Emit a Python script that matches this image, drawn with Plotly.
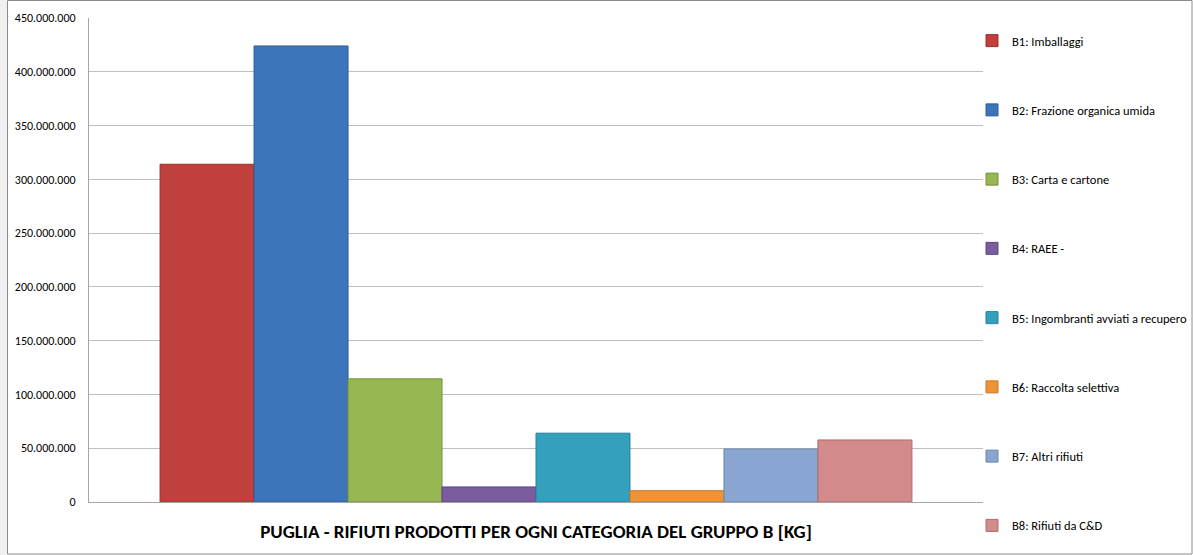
import plotly.graph_objects as go

categories = ["PUGLIA - RIFIUTI PRODOTTI PER OGNI CATEGORIA DEL GRUPPO B [KG]"]
series_names = [
    "B1: Imballaggi",
    "B2: Frazione organica umida",
    "B3: Carta e cartone",
    "B4: RAEE -",
    "B5: Ingombranti avviati a recupero",
    "B6: Raccolta selettiva",
    "B7: Altri rifiuti",
    "B8: Rifiuti da C&D",
]
series_values = [314000000, 424000000, 114500000, 14000000, 64000000, 10500000, 49300000, 57700000]
colors = ["#BF403C", "#3C75BA", "#96B752", "#7B5C9F", "#33A1BE", "#EF9337", "#89A6D2", "#D28A8A"]
edge_colors = ["#9A302D", "#2E5C95", "#779240", "#5E4680", "#28809A", "#C7772A", "#6E88B0", "#AE6C6C"]
tick_vals = [0, 50000000, 100000000, 150000000, 200000000, 250000000, 300000000, 350000000, 400000000, 450000000]

FONT = "Carlito, Lato, sans-serif"

fig = go.Figure()
for i, (name, val) in enumerate(zip(series_names, series_values)):
    fig.add_trace(go.Bar(
        x=categories, y=[val], name=name, legendgroup=f"g{i}",
        marker=dict(color=colors[i], line=dict(color=edge_colors[i], width=1)),
    ))

W, H = 1193, 555
L, R, T, B = 89, 210, 18, 53
pw, ph = W - L - R, H - T - B

def px_x(p):
    return (p - L) / pw

def px_y(p):
    return (H - B - p) / ph

fig.update_layout(
    width=W, height=H,
    margin=dict(l=L, r=R, t=T, b=B, autoexpand=False),
    paper_bgcolor="white", plot_bgcolor="white",
    separators=",.",
    barmode="group", bargap=0.159, bargroupgap=0,
    font=dict(family=FONT, size=12, color="#000000"),
    showlegend=True,
    legend=dict(
        x=px_x(972), y=px_y(26), xanchor="left", yanchor="top",
        tracegroupgap=50, itemwidth=30, maxheight=545,
        font=dict(family=FONT, size=12.5, color="#000000"),
        bgcolor="rgba(0,0,0,0)",
    ),
    xaxis=dict(
        showticklabels=False, ticks="", showgrid=False,
        showline=True, linecolor="#A6A6A6", linewidth=1,
        title=dict(text="<b>PUGLIA - RIFIUTI PRODOTTI PER OGNI CATEGORIA DEL GRUPPO B [KG]</b>",
                   font=dict(family=FONT, size=19, color="#000000"), standoff=22),
    ),
    yaxis=dict(
        range=[0, 450000000], tickvals=tick_vals, tickformat=",d",
        showgrid=True, gridcolor="#BFBFBF", gridwidth=1,
        showline=True, linecolor="#A6A6A6", linewidth=1,
        ticks="", ticklabelstandoff=10, zeroline=False,
        tickfont=dict(family=FONT, size=12, color="#000000"),
    ),
    shapes=[
        dict(type="rect", xref="paper", yref="paper",
             x0=px_x(0), x1=px_x(7), y0=px_y(555), y1=px_y(0),
             line=dict(width=0), fillcolor="#F0F0F0", layer="below"),
        dict(type="rect", xref="paper", yref="paper",
             x0=px_x(7.5), x1=px_x(1192), y0=px_y(554), y1=px_y(0.5),
             line=dict(color="#8C8C8C", width=1), layer="below"),
    ],
)

fig.write_html("out.html", config={"displayModeBar": False},
               post_script="document.body.style.margin='0px';document.body.style.overflow='hidden';")
